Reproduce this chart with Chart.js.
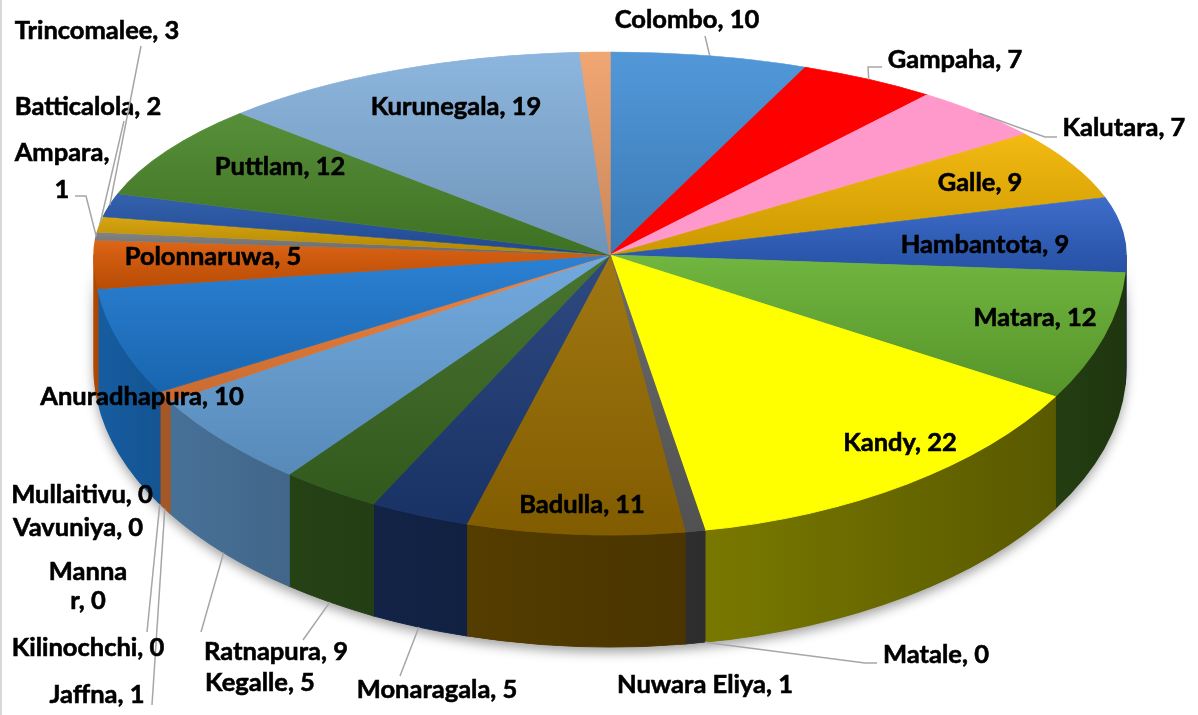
<!DOCTYPE html>
<html>
<head>
<meta charset="utf-8">
<script src="https://cdn.jsdelivr.net/npm/chart.js@4.4.1/dist/chart.umd.min.js"></script>
<style>
  html, body { margin: 0; background: #fff; }
  #wrap { width: 1198px; height: 715px; position: relative; }
</style>
</head>
<body>
<div id="wrap"><canvas id="myChart"></canvas></div>
<script>
// District counts, clockwise from 12 o'clock
const districts = ['Colombo', 'Gampaha', 'Kalutara', 'Galle', 'Hambantota', 'Matara', 'Kandy', 'Matale',
  'Nuwara Eliya', 'Badulla', 'Monaragala', 'Kegalle', 'Ratnapura', 'Jaffna', 'Kilinochchi', 'Mannar',
  'Vavuniya', 'Mullaitivu', 'Anuradhapura', 'Polonnaruwa', 'Ampara', 'Batticalola', 'Trincomalee',
  'Puttlam', 'Kurunegala', ''];
const cases = [10, 7, 7, 9, 9, 12, 22, 0, 1, 11, 5, 5, 9, 1, 0, 0, 0, 0, 10, 5, 1, 2, 3, 12, 19, 1.5];

const sliceColors = ['#4590D6', '#FF0000', '#FF99CC', '#F2B500', '#2F62C6', '#66B032', '#FFFF00', '#9E480E',
  '#606060', '#9A6E00', '#1E3C78', '#3B6A22', '#68A4DC', '#EE7E38', '#B7B7B7', '#FFCD33', '#698ED0', '#8CC168',
  '#1C78D0', '#DC5A06', '#7B7B7B', '#D39E00', '#2555A8', '#4A872A', '#84B0DC', '#F0A06A'];
const flatFill = [1, 2, 6]; // custom solid fills, no gradient

// where the pie sits on the page (tilted, front half deeper)
const CX = 610, CY = 255, RX = 516, RY_BACK = 203, RY_FRONT = 280, DEPTH = 112;

// label placement: one point per text line, optional leader path towards the slice
const labelSpots = {
  'Colombo': { at: [[687, 20]], lead: [[705, 36]] },
  'Gampaha': { at: [[955, 60]], lead: [[882, 67], [868, 67]] },
  'Kalutara': { at: [[1124, 128]], lead: [[1057, 137], [1045, 137]] },
  'Galle': { at: [[980, 183]] },
  'Hambantota': { at: [[985, 245]] },
  'Matara': { at: [[1035, 318]] },
  'Kandy': { at: [[900, 443]] },
  'Matale': { at: [[936, 655]], lead: [[877, 663], [865, 663]] },
  'Nuwara Eliya': { at: [[705, 685]] },
  'Badulla': { at: [[582, 505]] },
  'Monaragala': { at: [[437, 690]], lead: [[400, 676]] },
  'Kegalle': { at: [[260, 683]], lead: [[303, 640]] },
  'Ratnapura': { at: [[276, 652]], lead: [[201, 632]] },
  'Jaffna': { at: [[97, 695]], lead: [[152, 705]] },
  'Kilinochchi': { at: [[88, 648]], lead: [[147, 632]] },
  'Mannar': { at: [[88, 572], [88, 601]], split: 5 },
  'Vavuniya': { at: [[78, 528]] },
  'Mullaitivu': { at: [[82, 495]] },
  'Anuradhapura': { at: [[142, 397]] },
  'Polonnaruwa': { at: [[213, 257]] },
  'Ampara': { at: [[62, 153], [62, 190]], split: 7, lead: [[75, 196], [86, 196]] },
  'Batticalola': { at: [[88, 107]], lead: [[124, 121]] },
  'Trincomalee': { at: [[97, 31]], lead: [[141, 46]] },
  'Puttlam': { at: [[280, 167]] },
  'Kurunegala': { at: [[456, 107]] }
};

function shade(hex, f) {
  const n = parseInt(hex.slice(1), 16);
  const ch = [(n >> 16) & 255, (n >> 8) & 255, n & 255].map(c => {
    const v = f <= 1 ? c * f : c + (255 - c) * (f - 1);
    return Math.round(Math.max(0, Math.min(255, v)));
  });
  return `rgb(${ch[0]},${ch[1]},${ch[2]})`;
}

// top faces: soft top-to-bottom gradient per slice
function faceFill(c) {
  const i = c.dataIndex;
  const area = c.chart.chartArea;
  if (i === undefined || !area) return sliceColors[0];
  const base = sliceColors[i];
  if (flatFill.includes(i)) return base;
  const cx = (area.left + area.right) / 2;
  const cy = (area.top + area.bottom) / 2;
  const r = Math.min(area.right - area.left, area.bottom - area.top) / 2;
  const total = cases.reduce((a, b) => a + b, 0);
  let before = 0;
  for (let k = 0; k < i; k++) before += cases[k];
  const a0 = -Math.PI / 2 + before / total * 2 * Math.PI;
  const a1 = a0 + cases[i] / total * 2 * Math.PI;
  const ys = [cy, cy + r * Math.sin(a0), cy + r * Math.sin(a1)];
  if (a0 < Math.PI / 2 && a1 > Math.PI / 2) ys.push(cy + r);
  const top = Math.min(...ys), bottom = Math.max(...ys);
  if (bottom - top < 1) return base;
  const g = c.chart.ctx.createLinearGradient(cx, top, cx, bottom);
  g.addColorStop(0, shade(base, 1.07));
  g.addColorStop(1, shade(base, 0.84));
  return g;
}

// side walls get darker towards the right
function wallLight(a) {
  const t = Math.min(Math.max(a / Math.PI, 0), 1);
  return 0.3 + 0.5 * Math.pow(t, 1.3);
}

function pieGeom(chart) {
  const arc = chart.getDatasetMeta(0).data[0];
  const p = arc.getProps(['x', 'y', 'outerRadius'], true);
  return { x: p.x, y: p.y, r: p.outerRadius };
}

function place(ctx, p, ry) {
  ctx.translate(CX, CY);
  ctx.scale(RX / p.r, ry / p.r);
  ctx.translate(-p.x, -p.y);
}

// point on the rim (bottom of the wall for the front half)
function rimPoint(a) {
  const s = Math.sin(a);
  if (s < 0) return [CX + RX * Math.cos(a), CY + RY_BACK * s];
  return [CX + RX * Math.cos(a), CY + RY_FRONT * s + DEPTH];
}

const pie3d = {
  id: 'pie3d',
  beforeDatasetsDraw(chart) {
    const ctx = chart.ctx;
    const p = pieGeom(chart);
    const arcs = chart.getDatasetMeta(0).data;
    const d = DEPTH * p.r / RY_FRONT;

    ctx.save();
    place(ctx, p, RY_FRONT);
    // drop shadow under the front band
    ctx.save();
    ctx.shadowColor = 'rgba(0,0,0,0.38)';
    ctx.shadowBlur = 12;
    ctx.shadowOffsetY = 5;
    ctx.beginPath();
    ctx.arc(p.x, p.y, p.r, 0, Math.PI);
    ctx.arc(p.x, p.y + d, p.r, Math.PI, 0, true);
    ctx.closePath();
    ctx.fillStyle = '#555';
    ctx.fill();
    ctx.restore();

    arcs.forEach((arc, i) => {
      const { startAngle, endAngle } = arc.getProps(['startAngle', 'endAngle'], true);
      const a0 = Math.max(startAngle, 0);
      const a1 = Math.min(endAngle, Math.PI);
      if (a1 <= a0) return;
      const g = ctx.createLinearGradient(p.x + p.r * Math.cos(a0), 0, p.x + p.r * Math.cos(a1), 0);
      g.addColorStop(0, shade(sliceColors[i], wallLight(a0)));
      g.addColorStop(1, shade(sliceColors[i], wallLight(a1)));
      ctx.beginPath();
      ctx.arc(p.x, p.y, p.r, a0, a1);
      ctx.arc(p.x, p.y + d, p.r, a1, a0, true);
      ctx.closePath();
      ctx.fillStyle = g;
      ctx.strokeStyle = g;
      ctx.lineWidth = 1;
      ctx.fill();
      ctx.stroke();
    });
    ctx.restore();

    // back half of the top face: drawn by the chart itself
    ctx.save();
    ctx.beginPath();
    ctx.rect(0, 0, chart.width, CY);
    ctx.clip();
    place(ctx, p, RY_BACK);
  },
  afterDatasetsDraw(chart) {
    const ctx = chart.ctx;
    ctx.restore();

    // front half of the top face
    const p = pieGeom(chart);
    ctx.save();
    ctx.beginPath();
    ctx.rect(0, CY, chart.width, chart.height - CY);
    ctx.clip();
    place(ctx, p, RY_FRONT);
    chart.getDatasetMeta(0).controller.draw();
    ctx.restore();

    // data labels with leader lines
    const arcs = chart.getDatasetMeta(0).data;
    ctx.save();
    ctx.font = 'bold 25.5px Lato';
    ctx.textAlign = 'center';
    ctx.textBaseline = 'middle';
    districts.forEach((name, i) => {
      const spot = labelSpots[name];
      if (!spot) return;
      if (spot.lead) {
        const { startAngle, endAngle } = arcs[i].getProps(['startAngle', 'endAngle'], true);
        const end = rimPoint((startAngle + endAngle) / 2);
        ctx.beginPath();
        ctx.moveTo(spot.lead[0][0], spot.lead[0][1]);
        spot.lead.slice(1).forEach(pt => ctx.lineTo(pt[0], pt[1]));
        ctx.lineTo(end[0], end[1]);
        ctx.strokeStyle = '#A6A6A6';
        ctx.lineWidth = 1.5;
        ctx.stroke();
      }
      const text = `${name}, ${cases[i]}`;
      const lines = spot.split ? [text.slice(0, spot.split), text.slice(spot.split).trim()] : [text];
      ctx.fillStyle = '#000';
      ctx.strokeStyle = '#000';
      ctx.lineWidth = 0.6;
      lines.forEach((ln, k) => {
        ctx.fillText(ln, spot.at[k][0], spot.at[k][1]);
        ctx.strokeText(ln, spot.at[k][0], spot.at[k][1]);
      });
    });
    ctx.restore();

    // frame edge on the left
    ctx.save();
    ctx.strokeStyle = '#D9D9D9';
    ctx.lineWidth = 2;
    ctx.beginPath();
    ctx.moveTo(1, 0);
    ctx.lineTo(1, chart.height);
    ctx.stroke();
    ctx.restore();
  }
};

const ctx = document.getElementById('myChart').getContext('2d');
const myPie = new Chart(ctx, {
  type: 'pie',
  data: {
    labels: districts,
    datasets: [{
      data: cases,
      backgroundColor: faceFill,
      borderColor: faceFill,
      borderWidth: 1,
      hoverOffset: 0,
      clip: false
    }]
  },
  options: {
    responsive: true,
    maintainAspectRatio: false,
    animation: false,
    events: [],
    layout: { padding: 0 },
    plugins: {
      legend: { display: false },
      tooltip: { enabled: false }
    }
  },
  plugins: [pie3d]
});
</script>
</body>
</html>
